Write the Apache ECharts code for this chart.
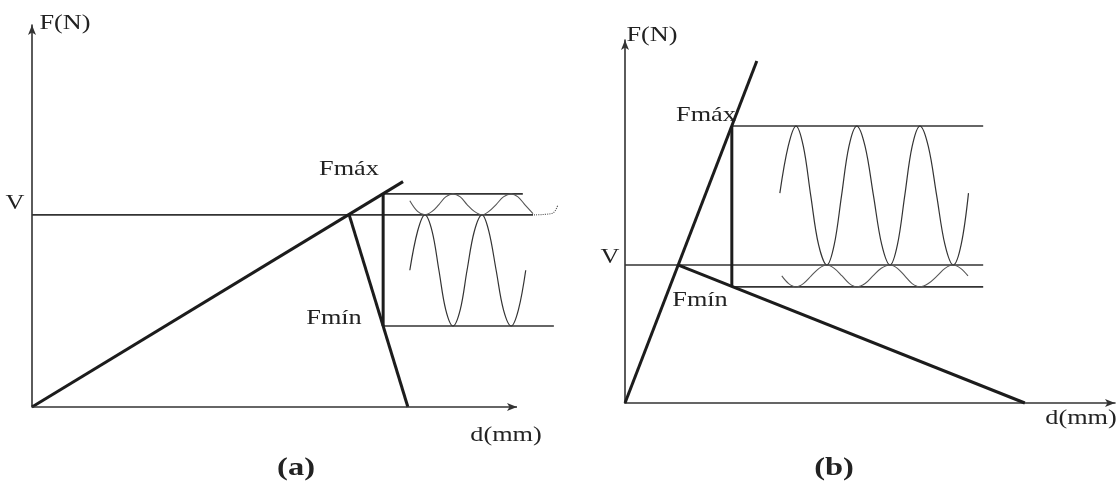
<!DOCTYPE html>
<html>
<head>
<meta charset="utf-8">
<title>Fmáx / Fmín</title>
<script src="https://cdn.jsdelivr.net/npm/echarts@6/dist/echarts.min.js"></script>
<style>
    html, body { margin: 0; padding: 0; background: #fff; }
    #chart { width: 1118px; height: 485px; }
</style>
</head>
<body>
<div id="chart"></div>
<script>
// panel (a) - values in axis units (x 0..110, y 0..100)
var aV = 50.3;
var aFmax = 55.8;
var aFmin = 21.2;
var aAxisEnd = 100;
var aLoad = [[0, 0], [76.5, 59.0]];
var aDrop = [[65.4, 50.3], [77.5, 0]];
var aStepX = 72.4;
var aLevelEnd = [103.3, 101.2, 107.6];   // V, Fmax, Fmin line ends
var aWaveBig = [[77.9, 35.8], [79.5, 46.0], [81.0, 50.3], [82.5, 46.0], [83.9, 35.8],
    [85.3, 25.5], [86.8, 21.2], [88.3, 25.5], [89.7, 35.8], [91.2, 46.0], [92.8, 50.3],
    [94.2, 46.0], [95.7, 35.8], [97.2, 25.5], [98.8, 21.2], [100.3, 25.5], [101.8, 35.8]];
var aWaveSmall = [[77.9, 54.0], [79.5, 51.2], [81.0, 50.3], [82.5, 51.2], [83.9, 53.0],
    [85.3, 55.0], [86.8, 55.8], [88.3, 55.0], [89.7, 53.0], [91.2, 51.2], [92.8, 50.3],
    [94.2, 51.2], [95.7, 53.0], [97.2, 55.0], [98.8, 55.8], [100.2, 55.0], [101.6, 53.0],
    [103.3, 50.6]];
var aTail = [[103.5, 50.3], [107.0, 50.6], [108.4, 52.8]];

// panel (b) - x 0..100, y 0..100
var bV = 38.0;
var bFmax = 76.3;
var bFmin = 32.0;
var bLoad = [[0, 0], [26.9, 94.2]];
var bDrop = [[10.9, 38.0], [81.6, 0]];
var bStepX = 21.8;
var bLevelEnd = [73.1, 73.1, 73.1];
var bWaveBig = [[31.6, 57.8], [33.3, 70.7], [34.9, 76.3], [36.4, 70.7], [37.9, 57.2],
    [39.5, 43.6], [41.2, 38.0], [42.7, 43.6], [44.2, 57.2], [45.7, 70.7], [47.3, 76.3],
    [49.0, 70.7], [50.7, 57.2], [52.4, 43.6], [54.1, 38.0], [55.6, 43.6], [57.1, 57.2],
    [58.6, 70.7], [60.2, 76.3], [61.9, 70.7], [63.6, 57.2], [65.3, 43.6], [67.0, 38.0],
    [68.6, 43.6], [70.1, 57.8]];
var bWaveSmall = [[32.0, 35.0], [33.4, 32.9], [34.9, 32.0], [36.4, 32.9], [38.0, 35.0],
    [39.6, 37.1], [41.2, 38.0], [42.7, 37.1], [44.3, 35.0], [45.8, 32.9], [47.3, 32.0],
    [49.0, 32.9], [50.6, 35.0], [52.3, 37.1], [54.1, 38.0], [55.6, 37.1], [57.1, 35.0],
    [58.6, 32.9], [60.2, 32.0], [61.9, 32.9], [63.7, 35.0], [65.3, 37.1], [66.9, 38.0],
    [68.5, 37.1], [70.0, 35.0]];

var ink = '#1c1c1c';
var thin = '#333';
var serif = '"Liberation Serif", "DejaVu Serif", serif';

function seg(idx, data, width, color, extra) {
    var s = {
        type: 'line',
        xAxisIndex: idx,
        yAxisIndex: idx,
        data: data,
        symbol: 'none',
        clip: false,
        silent: true,
        lineStyle: { width: width, color: color }
    };
    if (extra) {
        for (var k in extra) s[k] = extra[k];
    }
    return s;
}

function panelSeries(idx, load, drop, stepX, V, Fmax, Fmin, ends, big, small) {
    return [
        seg(idx, [[0, V], [ends[0], V]], 1.6, thin),
        seg(idx, [[stepX, Fmax], [ends[1], Fmax]], 1.6, thin),
        seg(idx, [[stepX, Fmin], [ends[2], Fmin]], 1.6, thin),
        seg(idx, big, 1.2, thin, { smooth: 0.35 }),
        seg(idx, small, 1.1, '#555', { smooth: 0.35 }),
        seg(idx, load, 3, ink),
        seg(idx, drop, 3, ink),
        seg(idx, [[stepX, Fmax], [stepX, Fmin]], 3, ink)
    ];
}

function axisOf(idx, max, showLine) {
    return {
        type: 'value',
        gridIndex: idx,
        min: 0,
        max: max,
        axisLabel: { show: false },
        axisTick: { show: false },
        splitLine: { show: false },
        axisLine: {
            show: showLine,
            symbol: ['none', 'arrow'],
            symbolSize: [6, 10],
            lineStyle: { color: thin, width: 1.6 }
        }
    };
}

function txt(x, y, s, size, bold) {
    return {
        type: 'text',
        x: x,
        y: y,
        scaleX: 1.25,
        silent: true,
        style: {
            text: s,
            fill: '#222',
            font: (bold ? 'bold ' : '') + size + 'px ' + serif,
            align: 'center',
            verticalAlign: 'middle'
        }
    };
}

var myChart = echarts.init(document.getElementById('chart'));

var series = panelSeries(0, aLoad, aDrop, aStepX, aV, aFmax, aFmin, aLevelEnd, aWaveBig, aWaveSmall)
    .concat(panelSeries(1, bLoad, bDrop, bStepX, bV, bFmax, bFmin, bLevelEnd, bWaveBig, bWaveSmall));
series.push(seg(0, aTail, 1.1, '#555', { smooth: 0.5, lineStyle: { width: 1.1, color: '#555', type: 'dotted' } }));
// x axis of panel (a) drawn as a markLine so it can stop before the levels end
series.push({
    type: 'line',
    xAxisIndex: 0,
    yAxisIndex: 0,
    data: [],
    silent: true,
    markLine: {
        silent: true,
        animation: false,
        symbol: ['none', 'arrow'],
        symbolSize: [6, 10],
        label: { show: false },
        lineStyle: { color: thin, width: 1.6, type: 'solid' },
        data: [[{ coord: [0, 0] }, { coord: [aAxisEnd, 0] }]]
    }
});

var option = {
    backgroundColor: '#fff',
    animation: false,
    grid: [
        { left: 32, top: 25, width: 533.5, height: 382 },
        { left: 625, top: 40, width: 490, height: 363 }
    ],
    xAxis: [axisOf(0, 110, false), axisOf(1, 100, true)],
    yAxis: [axisOf(0, 100, true), axisOf(1, 100, true)],
    series: series,
    graphic: [
        txt(65, 23, 'F(N)', 21),
        txt(15, 203, 'V', 21),
        txt(349, 169, 'Fmáx', 21),
        txt(334, 318, 'Fmín', 21),
        txt(506, 435, 'd(mm)', 21),
        txt(296, 468, '(a)', 26, true),
        txt(652, 35, 'F(N)', 21),
        txt(610, 257, 'V', 21),
        txt(706, 115, 'Fmáx', 21),
        txt(700, 300, 'Fmín', 21),
        txt(1081, 418, 'd(mm)', 21),
        txt(834, 468, '(b)', 26, true)
    ]
};

myChart.setOption(option);
</script>
</body>
</html>
